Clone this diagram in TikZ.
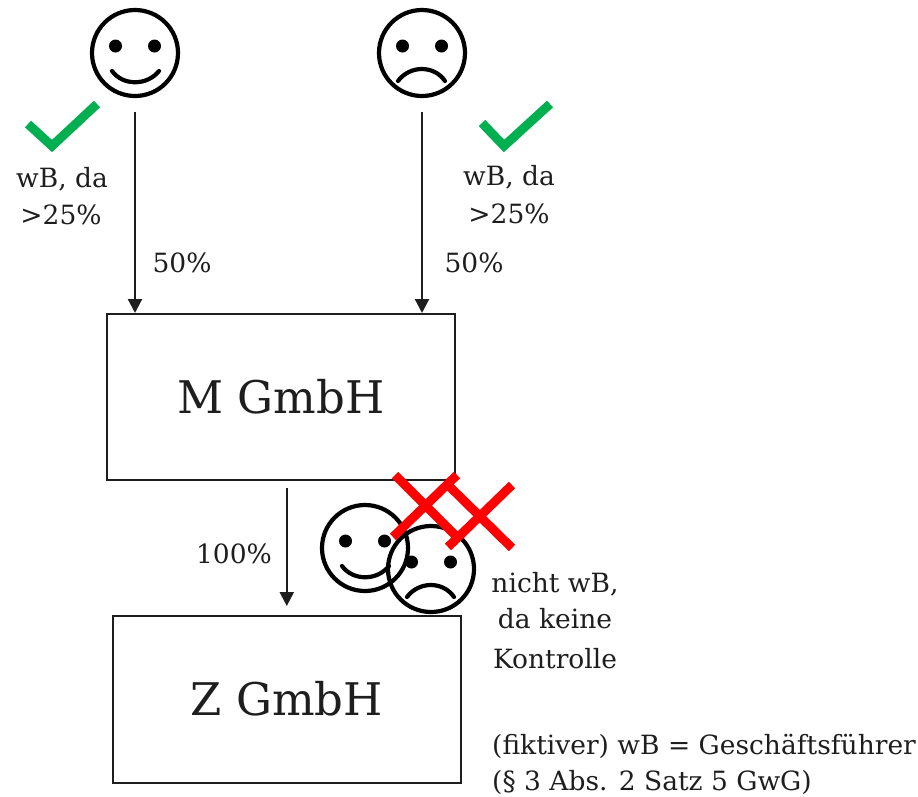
\documentclass[tikz,border=0pt]{standalone}
\usepackage{fontspec}
\setmainfont{DejaVu Serif}
\usetikzlibrary{arrows.meta}
\definecolor{txt}{HTML}{1E1E1E}
\definecolor{okgreen}{HTML}{00B050}
\definecolor{nored}{HTML}{FF0000}
\tikzset{
  face/.style={circle, draw=black, line width=4.2pt, minimum size=86pt, inner sep=0pt},
  featline/.style={draw=black, line width=4.2pt, line cap=round},
  smiley/.pic={
    \node[face] (-c) at (0,0) {};
    \fill[black] (-19.5,-7) circle[radius=6.5];
    \fill[black] (19.5,-7) circle[radius=6.5];
    \draw[featline] (-23,18) .. controls (-12,33) and (12,33) .. (24,18);
  },
  frowny/.pic={
    \node[face] (-c) at (0,0) {};
    \fill[black] (-19.5,-7) circle[radius=6.5];
    \fill[black] (19.5,-7) circle[radius=6.5];
    \draw[featline] (-24,28) .. controls (-12,12) and (12,12) .. (23,28);
  },
}
\begin{document}
\begin{tikzpicture}[x=1pt,y=-1pt,
  every node/.style={text=txt, inner sep=0pt},
  lbl/.style={font=\fontsize{26.5}{32}\selectfont, anchor=base},
  firm/.style={draw=txt, line width=1.6pt, minimum width=348pt, minimum height=166pt,
    anchor=north west, font=\fontsize{45}{54}\selectfont, text height=33pt, text depth=0pt},
  arr/.style={draw=txt, line width=2.2pt, -{Triangle[width=14pt,length=14pt]}},
  check/.style={draw=okgreen, line width=9pt, miter limit=10},
  cross/.style={draw=nored, line width=9pt},
]
\useasboundingbox (0,0) rectangle (918,796);

% boxes
\node[firm] (mbox) at (106,313) {M GmbH};
\node[firm, minimum height=167pt] (zbox) at (112,615) {Z GmbH};

% faces
\pic (hp) at (135,53) {smiley};
\pic (sp) at (422,53) {frowny};
\pic (hm) at (365,548) {smiley};
\pic (sm) at (431,569) {frowny};

% arrows
\draw[arr] ([yshift=-14pt]hp-c.south) -- (hp-c.south |- mbox.north);
\draw[arr] ([yshift=-14pt]sp-c.south) -- (sp-c.south |- mbox.north);
\draw[arr] ([yshift=-7pt]mbox.south -| zbox.north) -- ([yshift=9pt]zbox.north);

% check marks
\draw[check] (28,124) -- (52,146) -- (97,104);
\draw[check] (482,123) -- (504,146) -- (550,104);

% red crosses
\draw[cross] (395,475) -- (458,538);
\draw[cross] (457,475) -- (393,537);
\draw[cross] (512,485) -- (448,547);
\draw[cross] (448,485) -- (512,548);

% labels
\node[lbl] (t1a) at (62,187) {wB, da};
\node[lbl] (t1b) at (61,224) {>25\%};
\node[lbl] (p1) at (182,272) {50\%};
\node[lbl] (t2a) at (509,185) {wB, da};
\node[lbl] (t2b) at (509,223) {>25\%};
\node[lbl] (p2) at (474,272) {50\%};
\node[lbl] (p3) at (234,563) {100\%};
\node[lbl] (n1) at (555,592) {nicht wB,};
\node[lbl] (n2) at (555,628) {da keine};
\node[lbl] (n3) at (555,668) {Kontrolle};
\node[lbl, anchor=base west] (f1) at (492,754) {(fiktiver) wB = Geschäftsführer};
\node[lbl, anchor=base west] (f2) at (492,790) {(§ 3 Abs. 2 Satz 5 GwG)};
\end{tikzpicture}
\end{document}
